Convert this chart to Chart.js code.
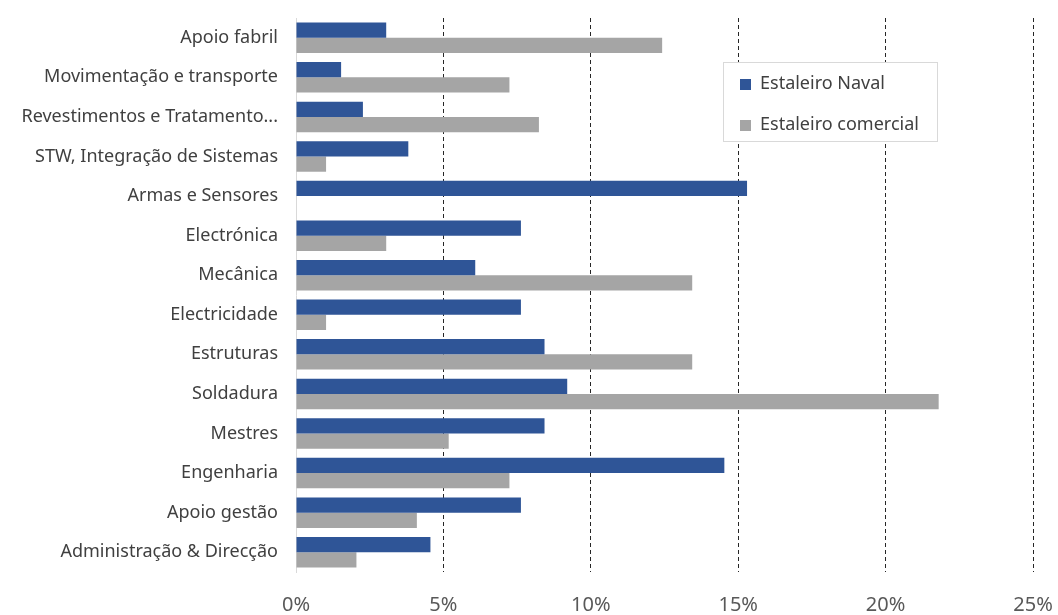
<!DOCTYPE html>
<html>
<head>
<meta charset="utf-8">
<script src="https://cdn.jsdelivr.net/npm/chart.js@4"></script>
<style>
    html, body { margin: 0; padding: 0; background: #ffffff; }
    #wrap { width: 1058px; height: 615px; }
</style>
</head>
<body>
<div id="wrap"><canvas id="chart" width="1058" height="615"></canvas></div>
<script>
// categorias (de cima para baixo)
const categories = [
    'Apoio fabril',
    'Movimentação e transporte',
    'Revestimentos e Tratamento...',
    'STW, Integração de Sistemas',
    'Armas e Sensores',
    'Electrónica',
    'Mecânica',
    'Electricidade',
    'Estruturas',
    'Soldadura',
    'Mestres',
    'Engenharia',
    'Apoio gestão',
    'Administração & Direcção',
];

// percentagens
const navalValues = [3.06, 1.53, 2.27, 3.81, 15.3, 7.63, 6.08, 7.63, 8.43, 9.2, 8.43, 14.53, 7.63, 4.56];
const comercialValues = [12.42, 7.24, 8.24, 1.02, 0, 3.06, 13.44, 1.02, 13.44, 21.8, 5.18, 7.24, 4.1, 2.05];

const seriesLabels = ['Estaleiro Naval', 'Estaleiro comercial'];
const xTicks = [0, 5, 10, 15, 20, 25];

const FONT = "'Noto Sans', 'Open Sans', sans-serif";

/**
 * Legenda desenhada dentro da área do gráfico
 */
const insideLegend = {
    id: 'insideLegend',
    afterDraw(chart, args, opts) {
        const ctx = chart.ctx;
        const x = opts.x, y = opts.y, w = opts.width, h = opts.height;
        ctx.save();
        ctx.fillStyle = '#ffffff';
        ctx.fillRect(x, y, w, h);
        ctx.strokeStyle = '#d9d9d9';
        ctx.lineWidth = 1;
        ctx.strokeRect(x + 0.5, y + 0.5, w, h);
        ctx.font = '18px ' + FONT;
        ctx.textBaseline = 'middle';
        chart.data.datasets.forEach((ds, i) => {
            const cy = y + opts.rowStart + i * opts.rowGap;
            ctx.fillStyle = ds.backgroundColor;
            ctx.fillRect(x + 17, cy - 5, 11, 11);
            ctx.fillStyle = '#404040';
            ctx.fillText(ds.label, x + 37, cy);
        });
        ctx.restore();
    },
};

// padding automático das escalas desligado (área do gráfico fixa)
function noScalePadding(scale) {
    scale.paddingLeft = 0;
    scale.paddingRight = 0;
    scale.paddingTop = 0;
    scale.paddingBottom = 0;
}

const ctx = document.getElementById('chart').getContext('2d');

new Chart(ctx, {
    type: 'bar',
    data: {
        labels: categories,
        datasets: [
            {
                label: seriesLabels[0],
                data: navalValues,
                backgroundColor: '#2f5597',
                categoryPercentage: 0.77,
                barPercentage: 1.0,
            },
            {
                label: seriesLabels[1],
                data: comercialValues,
                backgroundColor: '#a5a5a5',
                categoryPercentage: 0.77,
                barPercentage: 1.0,
            },
        ],
    },
    plugins: [insideLegend],
    options: {
        indexAxis: 'y',
        responsive: false,
        animation: false,
        layout: {
            padding: { top: 18, right: 25, bottom: 0, left: 0 },
        },
        plugins: {
            legend: { display: false },
            tooltip: { enabled: false },
            insideLegend: {
                x: 723, y: 62, width: 214, height: 79,
                rowStart: 22, rowGap: 41,
            },
        },
        scales: {
            x: {
                min: 0,
                max: 25,
                afterBuildTicks: (scale) => {
                    scale.ticks = xTicks.map(v => ({ value: v }));
                },
                afterFit: (scale) => {
                    scale.height = 43;
                    noScalePadding(scale);
                },
                ticks: {
                    padding: 21,
                    color: '#595959',
                    font: { family: FONT, size: 20 },
                    callback: (value) => value + '%',
                },
                grid: {
                    drawTicks: false,
                    lineWidth: 1,
                    color: (c) => (c.tick && c.tick.value === 0 ? 'rgba(0,0,0,0)' : '#262626'),
                },
                border: {
                    display: false,
                    dash: [4, 3],
                },
            },
            y: {
                afterFit: (scale) => {
                    scale.width = 296;
                    noScalePadding(scale);
                },
                ticks: {
                    padding: 18,
                    color: '#404040',
                    font: { family: FONT, size: 18 },
                },
                grid: {
                    display: false,
                    drawTicks: false,
                },
                border: {
                    display: true,
                    color: '#d9d9d9',
                    width: 1,
                },
            },
        },
    },
});
</script>
</body>
</html>
